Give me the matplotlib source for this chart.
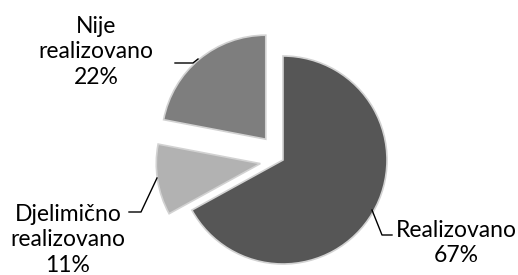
import matplotlib.pyplot as plt

labels = ['Realizovano', 'Djelimično\nrealizovano', 'Nije\nrealizovano']
values = [67, 11, 22]
colors = ['#565656', '#b2b2b2', '#7e7e7e']
explode = [0, 23, 27]   # data units (pixels here)

plt.rcParams['font.family'] = ['Lato', 'DejaVu Sans']

fig = plt.figure(figsize=(5.18, 2.75), dpi=100)
ax = fig.add_axes([0, 0, 1, 1])

wedges, _ = ax.pie(values, colors=colors, explode=explode, startangle=90,
                   counterclock=False, center=(283, 115), radius=104,
                   wedgeprops=dict(edgecolor='#d2d2d2', linewidth=1.2),
                   frame=True)
ax.set_xlim(0, 518)
ax.set_ylim(0, 275)
ax.set_aspect('equal')
ax.axis('off')

# label text and leader lines
txt = [f'{l}\n{v}%' for l, v in zip(labels, values)]
kw = dict(ha='center', va='center', fontsize=16.5, linespacing=1.25)
ax.text(456, 32, txt[0], **kw)
ax.text(68, 35, txt[1], **kw)
ax.text(96, 223, txt[2], **kw)

ax.plot([392, 382, 372], [40, 40, 65], color='black', lw=1)
ax.plot([129, 141, 157], [63, 63, 97], color='black', lw=1)
ax.plot([175, 193, 198], [212, 212, 216], color='black', lw=1)

fig.savefig('out.png', dpi=100)
